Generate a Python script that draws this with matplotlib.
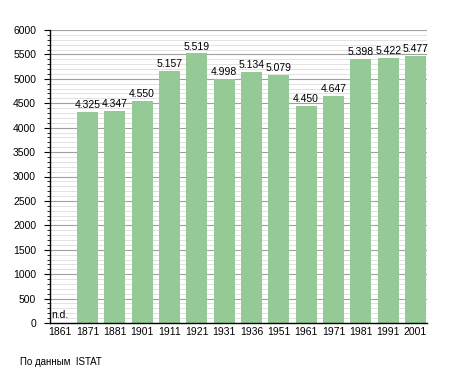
import matplotlib
matplotlib.use("Agg")
import matplotlib.pyplot as plt
from matplotlib.ticker import MultipleLocator

years = ["1861", "1871", "1881", "1901", "1911", "1921", "1931", "1936",
         "1951", "1961", "1971", "1981", "1991", "2001"]
population = [None, 4325, 4347, 4550, 5157, 5519, 4998, 5134,
              5079, 4450, 4647, 5398, 5422, 5477]
missing_label = "n.d."
source_text = "По данным  ISTAT"

plt.rcParams['font.family'] = ['Liberation Sans', 'DejaVu Sans']

fig = plt.figure(figsize=(4.55, 3.73), dpi=100)
ax = fig.add_axes([50/455, 1 - 323/373, 377/455, 293/373])

x = list(range(len(years)))
vals = [v if v is not None else 0 for v in population]
ax.bar(x, vals, width=0.77, color='#95c995', zorder=3, linewidth=0)

ax.set_xlim(-0.37, len(years) - 0.58)
ax.set_ylim(0, 6000)
ax.yaxis.set_major_locator(MultipleLocator(500))
ax.yaxis.set_minor_locator(MultipleLocator(100))
ax.grid(which='minor', axis='y', color='#dddddd', linewidth=0.6, zorder=0)
ax.grid(which='major', axis='y', color='#a0a0a0', linewidth=0.8, zorder=1)

for s in ['top', 'right']:
    ax.spines[s].set_visible(False)
for s in ['left', 'bottom']:
    ax.spines[s].set_color('black')
    ax.spines[s].set_linewidth(1.0)
    ax.spines[s].set_zorder(5)

ax.set_xticks(x)
ax.set_xticklabels(years)
ax.tick_params(axis='x', length=0, labelsize=7.5, pad=3)
ax.tick_params(axis='y', which='major', length=4, width=0.8, labelsize=7.5, pad=6)
ax.tick_params(axis='y', which='minor', length=2, width=0.6)

for xi, v in zip(x, population):
    if v is None:
        ax.text(xi - 0.33, 60, missing_label, fontsize=7.5, ha='left', va='bottom', zorder=4)
    else:
        lbl = f"{v:,}".replace(",", ".")
        ax.text(xi, v + 40, lbl, fontsize=7.5, ha='center', va='bottom', zorder=4)

fig.text(20/455, 1 - 362/373, source_text, fontsize=7, ha='left', va='center')

fig.savefig("out.png", dpi=100)
